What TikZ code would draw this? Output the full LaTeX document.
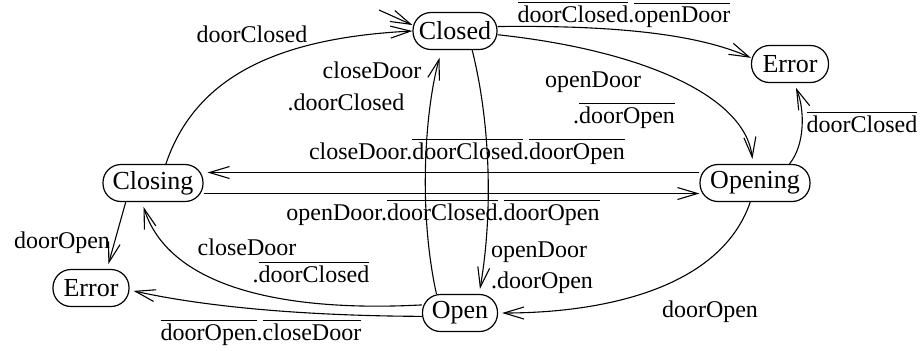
\documentclass[tikz,border=0pt]{standalone}
\usepackage{fontspec}
\setmainfont{Liberation Serif}
\usetikzlibrary{arrows.meta}
% negated signal: overlined text
\newcommand\nt[1]{$\overline{\mbox{#1}}$}
\begin{document}
\begin{tikzpicture}[x=0.5pt,y=-0.5pt,
  state/.style={draw, rectangle, rounded corners=9pt, line width=0.6pt,
    minimum height=18.5pt, inner sep=0pt, font=\fontsize{13}{15}\selectfont},
  lbl/.style={anchor=base, inner sep=0pt, font=\fontsize{12}{14}\selectfont},
  tr/.style={line width=0.55pt, -{Straight Barb[length=10pt,width=6pt]}},
  gap/.style={shorten >=2.5pt}]
\useasboundingbox (0,0) rectangle (920,350);

% states
\node[state, minimum width=42pt]   (closed)  at (455,31)  {Closed};
\node[state, minimum width=38.5pt] (errA)    at (790,64)  {Error};
\node[state, minimum width=50pt]   (closing) at (153,183) {Closing};
\node[state, minimum width=55pt]   (opening) at (755,183) {Opening};
\node[state, minimum width=38pt]   (errB)    at (91,288)  {Error};
\node[state, minimum width=37.5pt] (open)    at (460,313) {Open};
\coordinate (init) at (379,10);

% transitions
\draw[tr] (init) -- (closed.172);
\draw[tr] (closing.56) .. controls (195,78) and (275,38) .. (closed.west);
\draw[tr, shorten >=4pt] (open.141) .. controls (418,210) and (425,110) .. (closed.235);
\draw[tr, gap] (closed.-48) .. controls (492,130) and (492,220) .. (open.45);
\draw[tr] (closed.6) .. controls (620,25) and (700,35) .. (errA.171);
\draw[tr, gap] (closed.-5) .. controls (640,50) and (745,95) .. (opening.96);
\draw[tr, gap] (opening.29) .. controls (805,145) and (805,110) .. (errA.-78);
\draw[tr, shorten >=2pt] ([yshift=5.25pt]opening.west) -- ([yshift=5.25pt]closing.east);
\draw[tr] ([yshift=-5.25pt]closing.east) -- ([yshift=-5.25pt]opening.west);
\draw[tr, gap] (closing.215) -- (errB.50);
\draw[tr, gap] (open.168) .. controls (290,312) and (170,290) .. (closing.240);
\draw[tr, shorten >=2pt] (open.185) .. controls (330,316) and (220,310) .. (errB.-3);
\draw[tr, shorten >=2pt] (opening.-104) .. controls (720,290) and (600,313) .. (open.east);

% guards
\node[lbl] (g1)  at (252,42)  {doorClosed};
\node[lbl] (g2)  at (372,78)  {closeDoor};
\node[lbl] (g3)  at (346,110) {.doorClosed};
\node[lbl] (g4)  at (624,22)  {\nt{doorClosed}.\nt{openDoor}};
\node[lbl] (g5)  at (593,87)  {openDoor};
\node[lbl] (g6)  at (624,123) {.\nt{doorOpen}};
\node[lbl] (g7)  at (862,132) {\nt{doorClosed}};
\node[lbl] (g8)  at (467,159) {closeDoor.\nt{doorClosed}.\nt{doorOpen}};
\node[lbl] (g9)  at (443,220) {openDoor.\nt{doorClosed}.\nt{doorOpen}};
\node[lbl] (g10) at (62,248)  {doorOpen};
\node[lbl] (g11) at (247,255) {closeDoor};
\node[lbl] (g12) at (311,282) {.\nt{doorClosed}};
\node[lbl] (g13) at (261,340) {\nt{doorOpen}.\nt{closeDoor}};
\node[lbl] (g14) at (539,257) {openDoor};
\node[lbl] (g15) at (542,288) {.doorOpen};
\node[lbl] (g16) at (710,317) {doorOpen};
\end{tikzpicture}
\end{document}
